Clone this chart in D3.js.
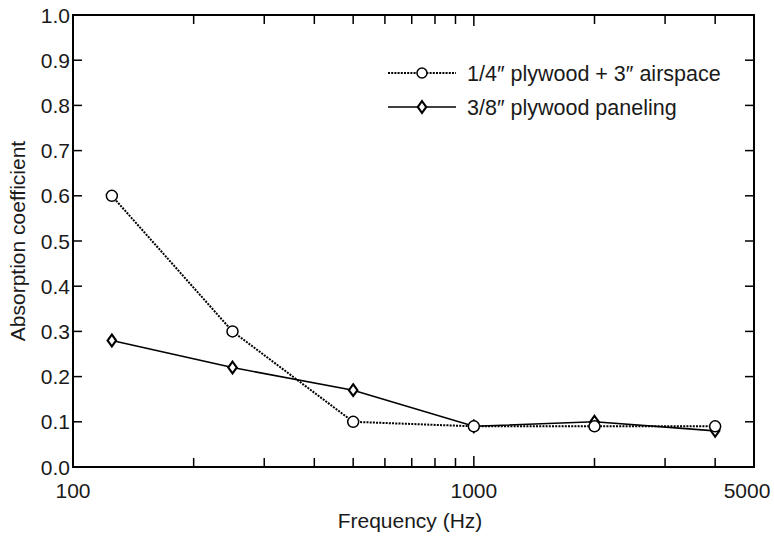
<!DOCTYPE html>
<html>
<head>
<meta charset="utf-8">
<script src="https://cdn.jsdelivr.net/npm/d3@7"></script>
<style>
  body { margin: 0; background: #fff; }
  text { font-family: "Liberation Sans", Arial, sans-serif; fill: #1a1a1a; }
</style>
</head>
<body>
<script>
// dimensions
var width = 774;
var height = 536;

var margin = { top: 15, right: 20, bottom: 69, left: 73 };

// data
var freqs = [125, 250, 500, 1000, 2000, 4000];
var airspace = [0.6, 0.3, 0.1, 0.09, 0.09, 0.09];
var paneling = [0.28, 0.22, 0.17, 0.09, 0.10, 0.08];
var seriesNames = ["1/4\u2033 plywood + 3\u2033 airspace", "3/8\u2033 plywood paneling"];
var xTickLabels = [100, 1000, 5000];
var xMinorTicks = [200, 300, 400, 500, 600, 700, 800, 900, 2000, 3000, 4000];
var yTicks = [0, 0.1, 0.2, 0.3, 0.4, 0.5, 0.6, 0.7, 0.8, 0.9, 1.0];

var svg = d3.select("body").append("svg")
    .attr("width", width)
    .attr("height", height);

var x = d3.scaleLog().domain([100, 5000]).range([margin.left, 754]);
var y = d3.scaleLinear().domain([0, 1]).range([467, margin.top]);

// frame
svg.append("rect")
    .attr("x", x(100)).attr("y", y(1))
    .attr("width", x(5000) - x(100)).attr("height", y(0) - y(1))
    .attr("fill", "none").attr("stroke", "#000").attr("stroke-width", 2);

// ticks, all pointing inwards
var tickLen = 9;
var g = svg.append("g").attr("stroke", "#000").attr("stroke-width", 1.5);
g.selectAll(".xb").data(xMinorTicks.concat([1000])).enter().append("line")
    .attr("x1", d => x(d)).attr("x2", d => x(d))
    .attr("y1", y(0)).attr("y2", d => y(0) - (d === 1000 ? tickLen + 2 : tickLen));
g.selectAll(".xt").data(xMinorTicks.concat([1000])).enter().append("line")
    .attr("x1", d => x(d)).attr("x2", d => x(d))
    .attr("y1", y(1)).attr("y2", d => y(1) + (d === 1000 ? tickLen + 2 : tickLen));
g.selectAll(".yl").data(yTicks.slice(1, -1)).enter().append("line")
    .attr("x1", x(100)).attr("x2", x(100) + tickLen)
    .attr("y1", d => y(d)).attr("y2", d => y(d));
g.selectAll(".yr").data(yTicks.slice(1, -1)).enter().append("line")
    .attr("x1", x(5000)).attr("x2", x(5000) - tickLen)
    .attr("y1", d => y(d)).attr("y2", d => y(d));

// tick labels
svg.selectAll(".ylab").data(yTicks).enter().append("text")
    .attr("x", x(100) - 3).attr("y", d => y(d))
    .attr("dy", "0.36em").attr("text-anchor", "end")
    .style("font-size", "21px")
    .text(d => d3.format(".1f")(d));
// last label is pulled in so it stays on the page
svg.selectAll(".xlab").data(xTickLabels).enter().append("text")
    .attr("x", d => Math.min(x(d), width - 27))
    .attr("y", y(0) + 31)
    .attr("text-anchor", "middle")
    .style("font-size", "21px")
    .text(d => d);

// axis titles
svg.append("text")
    .attr("x", 410).attr("y", 528)
    .attr("text-anchor", "middle")
    .style("font-size", "21px")
    .text("Frequency (Hz)");
svg.append("text")
    .attr("transform", "translate(25," + y(0.5) + ") rotate(-90)")
    .attr("text-anchor", "middle")
    .style("font-size", "21px")
    .text("Absorption coefficient");

// lines
var line = d3.line().x((d, i) => x(freqs[i])).y(d => y(d));
svg.append("path").datum(paneling)
    .attr("d", line).attr("fill", "none")
    .attr("stroke", "#000").attr("stroke-width", 1.6);
svg.append("path").datum(airspace)
    .attr("d", line).attr("fill", "none")
    .attr("stroke", "#000").attr("stroke-width", 2)
    .attr("stroke-dasharray", "2,1.2");

// markers
var diamond = d3.symbol().type(d3.symbolDiamond).size(40);
svg.selectAll(".dia").data(paneling).enter().append("path")
    .attr("d", diamond)
    .attr("transform", (d, i) => "translate(" + x(freqs[i]) + "," + y(d) + ") scale(1.25,1)")
    .attr("fill", "#fff").attr("stroke", "#000").attr("stroke-width", 1.8);
svg.selectAll(".circ").data(airspace).enter().append("circle")
    .attr("cx", (d, i) => x(freqs[i])).attr("cy", d => y(d)).attr("r", 5.5)
    .attr("fill", "#fff").attr("stroke", "#000").attr("stroke-width", 1.5);

// legend
var lx1 = 388, lx2 = 456, ly = [73, 107];
svg.append("line").attr("x1", lx1).attr("x2", lx2).attr("y1", ly[0]).attr("y2", ly[0])
    .attr("stroke", "#000").attr("stroke-width", 2).attr("stroke-dasharray", "2,1.2");
svg.append("circle").attr("cx", (lx1 + lx2) / 2).attr("cy", ly[0]).attr("r", 5)
    .attr("fill", "#fff").attr("stroke", "#000").attr("stroke-width", 1.5);
svg.append("line").attr("x1", lx1).attr("x2", lx2).attr("y1", ly[1]).attr("y2", ly[1])
    .attr("stroke", "#000").attr("stroke-width", 1.6);
svg.append("path").attr("d", diamond)
    .attr("transform", "translate(" + (lx1 + lx2) / 2 + "," + ly[1] + ") scale(1.25,1)")
    .attr("fill", "#fff").attr("stroke", "#000").attr("stroke-width", 1.8);
svg.selectAll(".leg").data(seriesNames).enter().append("text")
    .attr("x", 467).attr("y", (d, i) => ly[i])
    .attr("dy", "0.36em")
    .style("font-size", "21.5px")
    .text(d => d);
</script>
</body>
</html>
